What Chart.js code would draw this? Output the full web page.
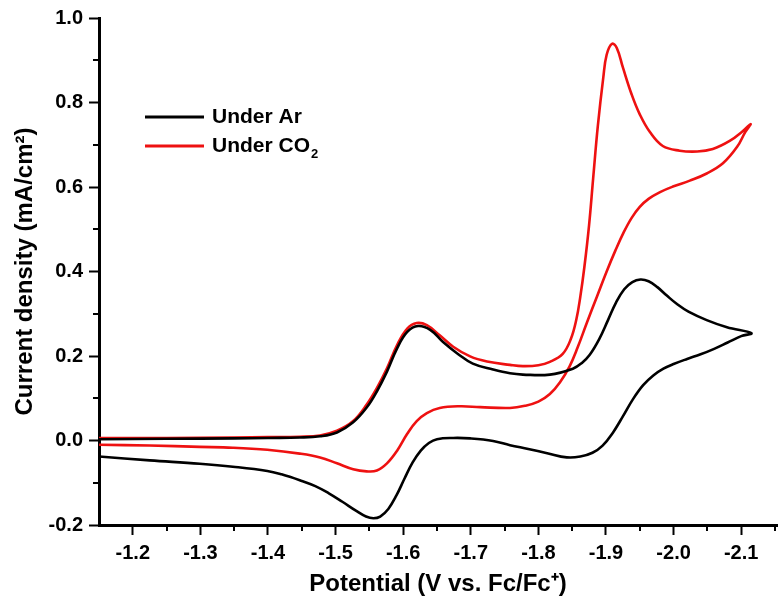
<!DOCTYPE html>
<html>
<head>
<meta charset="utf-8">
<script src="https://cdn.jsdelivr.net/npm/chart.js@4"></script>
<style>
  body { margin: 0; background: #fff; }
  #cv { display: block; }
</style>
</head>
<body>
<canvas id="cv" width="783" height="607"></canvas>
<script>
// Cyclic voltammograms (forward scan then return scan)
const arPotential = [
    -1.150, -1.250, -1.350, -1.400, -1.447, -1.477, -1.502, -1.526, -1.546, -1.561, -1.576, -1.591, -1.606, -1.622,
    -1.640, -1.659, -1.680, -1.703, -1.733, -1.758, -1.777, -1.817, -1.851, -1.864, -1.876, -1.890, -1.903, -1.915,
    -1.927, -1.939, -1.951, -1.963, -1.976, -1.990, -2.005, -2.022, -2.049, -2.079, -2.115,
    -2.100, -2.080, -2.060, -2.040, -2.020, -2.000, -1.985, -1.970, -1.955, -1.940, -1.925, -1.910, -1.895, -1.880,
    -1.862, -1.842, -1.813, -1.785, -1.758, -1.733, -1.699, -1.674, -1.650, -1.638, -1.626, -1.614, -1.602, -1.590,
    -1.578, -1.566, -1.556, -1.545, -1.530, -1.510, -1.490, -1.470, -1.447, -1.420, -1.399, -1.348, -1.299, -1.225,
    -1.150
];
const arCurrent = [
    0.003, 0.004, 0.005, 0.006, 0.007, 0.010, 0.019, 0.043, 0.078, 0.116, 0.163, 0.218, 0.257, 0.271,
    0.262, 0.233, 0.206, 0.182, 0.168, 0.159, 0.156, 0.156, 0.170, 0.183, 0.203, 0.240, 0.285, 0.327,
    0.358, 0.375, 0.381, 0.377, 0.363, 0.343, 0.323, 0.305, 0.285, 0.268, 0.254,
    0.247, 0.232, 0.217, 0.204, 0.193, 0.181, 0.170, 0.154, 0.131, 0.098, 0.057, 0.018, -0.012, -0.029,
    -0.038, -0.040, -0.030, -0.020, -0.011, -0.001, 0.005, 0.006, 0.003, -0.006, -0.024, -0.052, -0.090, -0.130,
    -0.162, -0.180, -0.184, -0.180, -0.166, -0.145, -0.125, -0.108, -0.094, -0.080, -0.072, -0.062, -0.055, -0.047,
    -0.038
];
const co2Potential = [
    -1.150, -1.250, -1.350, -1.400, -1.447, -1.477, -1.502, -1.526, -1.546, -1.561, -1.576, -1.591, -1.606, -1.620,
    -1.635, -1.654, -1.674, -1.699, -1.724, -1.758, -1.777, -1.800, -1.817, -1.836, -1.848, -1.856, -1.862, -1.868,
    -1.875, -1.881, -1.888, -1.896, -1.901, -1.909, -1.916, -1.925, -1.938, -1.950, -1.965, -1.984, -2.009, -2.035,
    -2.058, -2.083, -2.103, -2.114,
    -2.106, -2.094, -2.073, -2.049, -2.024, -1.999, -1.980, -1.963, -1.950, -1.938, -1.926, -1.914, -1.901, -1.887,
    -1.872, -1.858, -1.846, -1.832, -1.817, -1.800, -1.780, -1.758, -1.714, -1.684, -1.654, -1.635, -1.620, -1.606,
    -1.591, -1.576, -1.561, -1.546, -1.526, -1.502, -1.477, -1.447, -1.399, -1.348, -1.299, -1.225, -1.150
];
const co2Current = [
    0.006, 0.006, 0.007, 0.008, 0.009, 0.012, 0.023, 0.046, 0.085, 0.124, 0.171, 0.226, 0.265, 0.278,
    0.273, 0.249, 0.222, 0.199, 0.187, 0.179, 0.176, 0.178, 0.186, 0.205, 0.240, 0.285, 0.340, 0.410,
    0.510, 0.620, 0.745, 0.859, 0.913, 0.939, 0.929, 0.883, 0.819, 0.772, 0.730, 0.697, 0.686, 0.684,
    0.690, 0.709, 0.733, 0.749,
    0.730, 0.695, 0.656, 0.632, 0.615, 0.601, 0.588, 0.572, 0.553, 0.527, 0.492, 0.450, 0.400, 0.342,
    0.280, 0.220, 0.175, 0.138, 0.110, 0.092, 0.082, 0.077, 0.079, 0.081, 0.077, 0.065, 0.046, 0.016,
    -0.024, -0.054, -0.071, -0.073, -0.068, -0.054, -0.040, -0.031, -0.022, -0.017, -0.015, -0.012, -0.010
];

const seriesNames = ['Under Ar', 'Under CO', '2'];
const xTitle = 'Potential (V vs. Fc/Fc\u207A)';
const yTitle = 'Current density (mA/cm\u00B2)';
const xMinorTicks = [-1.25, -1.35, -1.45, -1.55, -1.65, -1.75, -1.85, -1.95, -2.05, -2.15];
const yMinorTicks = [-0.1, 0.1, 0.3, 0.5, 0.7, 0.9];

const RED = '#ee1111';
const FONT = '"Liberation Sans", Arial, sans-serif';

function toPoints(xs, ys) {
    return xs.map((x, i) => ({ x: x, y: ys[i] }));
}

function fmt(v) {
    return (Math.abs(v) < 1e-9 ? 0 : v).toFixed(1);
}

// short minor ticks and the legend drawn inside the plot
const extrasPlugin = {
    id: 'extras',
    afterDraw(chart) {
        const ctx = chart.ctx;
        const xs = chart.scales.x, ys = chart.scales.y;
        const area = chart.chartArea;
        ctx.save();
        ctx.strokeStyle = '#000';
        ctx.lineWidth = 2;
        xMinorTicks.forEach(v => {
            const px = Math.round(xs.getPixelForValue(v));
            ctx.beginPath();
            ctx.moveTo(px, area.bottom);
            ctx.lineTo(px, area.bottom + 6);
            ctx.stroke();
        });
        yMinorTicks.forEach(v => {
            const py = Math.round(ys.getPixelForValue(v));
            ctx.beginPath();
            ctx.moveTo(area.left, py);
            ctx.lineTo(area.left - 6, py);
            ctx.stroke();
        });

        // legend
        const lx = area.left + 46, ly = area.top + 99;
        ctx.lineWidth = 3;
        ctx.strokeStyle = '#000';
        ctx.beginPath(); ctx.moveTo(lx, ly); ctx.lineTo(lx + 59, ly); ctx.stroke();
        ctx.strokeStyle = RED;
        ctx.beginPath(); ctx.moveTo(lx, ly + 29); ctx.lineTo(lx + 59, ly + 29); ctx.stroke();
        ctx.fillStyle = '#000';
        ctx.textBaseline = 'middle';
        ctx.font = 'bold 21px ' + FONT;
        ctx.fillText(seriesNames[0], lx + 67, ly);
        ctx.fillText(seriesNames[1], lx + 67, ly + 29);
        const w = ctx.measureText(seriesNames[1]).width;
        ctx.font = 'bold 13px ' + FONT;
        ctx.fillText(seriesNames[2], lx + 68 + w, ly + 37);
        ctx.restore();
    }
};

new Chart(document.getElementById('cv'), {
    type: 'scatter',
    data: {
        datasets: [
            {
                label: 'Under Ar',
                data: toPoints(arPotential, arCurrent),
                showLine: true,
                borderColor: '#000',
                borderWidth: 2.6,
                pointRadius: 0,
                tension: 0.4,
            },
            {
                label: 'Under CO2',
                data: toPoints(co2Potential, co2Current),
                showLine: true,
                borderColor: RED,
                borderWidth: 2.6,
                pointRadius: 0,
                tension: 0.4,
            }
        ]
    },
    options: {
        responsive: false,
        animation: false,
        layout: { padding: { top: 13, right: 6, left: 0, bottom: 0 } },
        plugins: {
            legend: { display: false },
            tooltip: { enabled: false },
        },
        scales: {
            x: {
                type: 'linear',
                reverse: true,
                min: -2.153,
                max: -1.15,
                afterFit: s => { s.height = 82; },
                border: { display: true, color: '#000', width: 3 },
                grid: { drawOnChartArea: false, drawTicks: true, tickLength: 10, tickWidth: 2, tickColor: '#000' },
                ticks: {
                    stepSize: 0.1,
                    includeBounds: false,
                    padding: 6,
                    color: '#000',
                    font: { family: FONT, size: 20, weight: 'bold' },
                    callback: fmt,
                },
                title: {
                    display: true,
                    text: xTitle,
                    color: '#000',
                    font: { family: FONT, size: 24, weight: 'bold' },
                    padding: { top: 0, bottom: 8 },
                },
            },
            y: {
                type: 'linear',
                min: -0.2,
                max: 1.0,
                afterFit: s => { s.width = 99; },
                border: { display: true, color: '#000', width: 3 },
                grid: { drawOnChartArea: false, drawTicks: true, tickLength: 10, tickWidth: 2, tickColor: '#000' },
                ticks: {
                    stepSize: 0.2,
                    padding: 6,
                    color: '#000',
                    font: { family: FONT, size: 20, weight: 'bold' },
                    callback: fmt,
                },
                title: {
                    display: true,
                    text: yTitle,
                    color: '#000',
                    font: { family: FONT, size: 24, weight: 'bold' },
                    padding: { top: 11, bottom: 0 },
                },
            },
        },
    },
    plugins: [extrasPlugin],
});
</script>
</body>
</html>
